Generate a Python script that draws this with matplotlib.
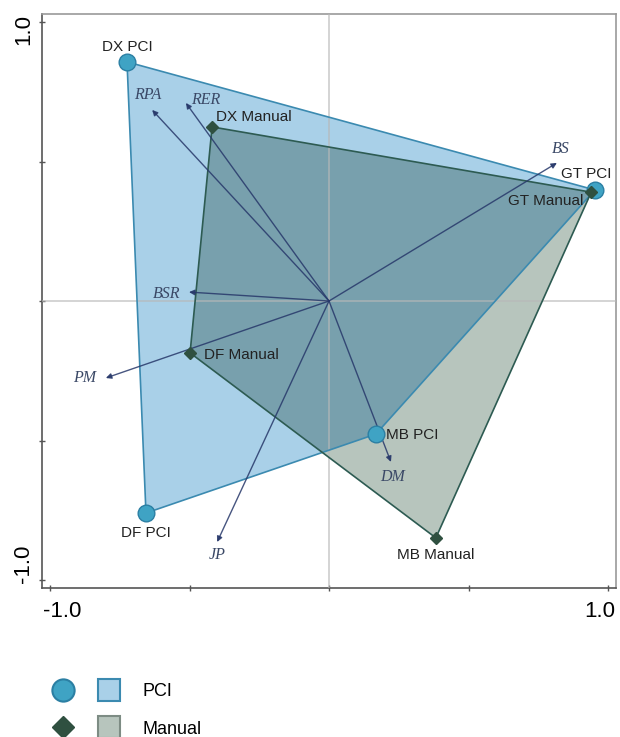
import matplotlib
matplotlib.use("Agg")
import matplotlib.pyplot as plt
from matplotlib.patches import Polygon
from matplotlib.lines import Line2D
from matplotlib.legend_handler import HandlerTuple

# sample scores (first two axes)
sites = ['DX', 'GT', 'MB', 'DF']
pci_x = [-0.724, 0.953, 0.168, -0.656]
pci_y = [0.857, 0.398, -0.477, -0.760]
manual_x = [-0.419, 0.940, 0.383, -0.498]
manual_y = [0.624, 0.390, -0.849, -0.186]

# variable loadings (arrows)
var_names = ['RPA', 'RER', 'BS', 'BSR', 'PM', 'JP', 'DM']
var_x = [-0.634, -0.513, 0.817, -0.502, -0.800, -0.401, 0.222]
var_y = [0.685, 0.710, 0.495, 0.032, -0.276, -0.864, -0.577]

# label offsets in pixels (style only)
pci_off = {'DX': (0, 15, 'center'), 'GT': (-34, 16, 'left'),
           'MB': (10, -1, 'left'), 'DF': (0, -20, 'center')}
man_off = {'DX': (4, 10, 'left'), 'GT': (-83, -9, 'left'),
           'MB': (0, -17, 'center'), 'DF': (14, -2, 'left')}
var_off = {'RPA': (-4, 15), 'RER': (20, 3), 'BS': (4, 14), 'BSR': (-22, -2),
           'PM': (-21, 0), 'JP': (0, -13), 'DM': (2, -15)}

pci_fill = '#a9d0e8'
manual_fill = '#b7c5bd'
overlap_fill = '#78a0ad'
pci_edge = '#3b8ab0'
manual_edge = '#2d5b52'
arrow_col = '#27386a'

plt.rcParams['font.family'] = ['Liberation Sans', 'DejaVu Sans']

fig = plt.figure(figsize=(6.2, 7.37), dpi=100)
ax = fig.add_axes([42 / 620, 1 - 588 / 737, 574 / 620, 574 / 737])
lim = 1 + 8 / 279
ax.set_xlim(-lim, lim)
ax.set_ylim(-lim, lim)

pci_xy = list(zip(pci_x, pci_y))
man_xy = list(zip(manual_x, manual_y))

pci_patch = Polygon(pci_xy, closed=True, fc=pci_fill, ec='none', zorder=1)
ax.add_patch(pci_patch)
ax.add_patch(Polygon(man_xy, closed=True, fc=manual_fill, ec='none', zorder=2))
ov = Polygon(man_xy, closed=True, fc=overlap_fill, ec='none', zorder=3)
ax.add_patch(ov)
ov.set_clip_path(pci_patch)

ax.axhline(0, color='#b8b8b8', lw=1.2, alpha=0.7, zorder=3.5)
ax.axvline(0, color='#b8b8b8', lw=1.2, alpha=0.7, zorder=3.5)

ax.add_patch(Polygon(pci_xy, closed=True, fill=False, ec=pci_edge, lw=1.2, zorder=4))
ax.add_patch(Polygon(man_xy, closed=True, fill=False, ec=manual_edge, lw=1.2, zorder=4))

for name, vx, vy in zip(var_names, var_x, var_y):
    ax.annotate('', xy=(vx, vy), xytext=(0, 0),
                arrowprops=dict(arrowstyle='-|>', color=arrow_col, lw=1.0, alpha=0.85,
                                mutation_scale=8, shrinkA=0, shrinkB=0),
                zorder=5)
    dx, dy = var_off[name]
    ax.annotate(name, (vx, vy), xytext=(dx, dy), textcoords='offset pixels',
                ha='center', va='center', fontsize=11.5, style='italic',
                family='Liberation Serif', color='#3a4866', zorder=7)

ax.plot(pci_x, pci_y, 'o', ms=12, mfc='#3fa3c4', mec='#2b7fa3', mew=1, zorder=6)
ax.plot(manual_x, manual_y, 'D', ms=6, mfc='#2f5040', mec='#2f5040', zorder=6)

for s, x, y in zip(sites, pci_x, pci_y):
    dx, dy, ha = pci_off[s]
    ax.annotate(f'{s} PCI', (x, y), xytext=(dx, dy), textcoords='offset pixels',
                ha=ha, va='center', fontsize=11, color='#222222', zorder=7)
for s, x, y in zip(sites, manual_x, manual_y):
    dx, dy, ha = man_off[s]
    ax.annotate(f'{s} Manual', (x, y), xytext=(dx, dy), textcoords='offset pixels',
                ha=ha, va='center', fontsize=11, color='#222222', zorder=7)

ticks = [-1, -0.5, 0, 0.5, 1]
ax.set_xticks(ticks)
ax.set_yticks(ticks)
ax.set_xticklabels([])
ax.set_yticklabels([])
ax.tick_params(direction='inout', length=4, width=1, color='#555555')
for side in ['left', 'bottom']:
    ax.spines[side].set_color('#555555')
for side in ['top', 'right']:
    ax.spines[side].set_color('#999999')
for sp in ax.spines.values():
    sp.set_linewidth(1.2)

ax.text(0.002, -0.022, '-1.0', transform=ax.transAxes, ha='left', va='top', fontsize=16)
ax.text(0.998, -0.022, '1.0', transform=ax.transAxes, ha='right', va='top', fontsize=16)
ax.text(-0.014, 1.0, '1.0', transform=ax.transAxes, rotation=90, ha='right', va='top', fontsize=16)
ax.text(-0.014, 0.008, '-1.0', transform=ax.transAxes, rotation=90, ha='right', va='bottom', fontsize=16)

h_pci_pt = Line2D([], [], ls='none', marker='o', ms=16, mfc='#3fa3c4', mec='#2b7fa3', mew=1.5)
h_pci_sq = Line2D([], [], ls='none', marker='s', ms=16, mfc=pci_fill, mec=pci_edge, mew=1.5)
h_man_pt = Line2D([], [], ls='none', marker='D', ms=11.5, mfc='#2f5040', mec='#2f5040')
h_man_sq = Line2D([], [], ls='none', marker='s', ms=16, mfc=manual_fill, mec='#7d8c84', mew=1.5)
fig.legend([(h_pci_pt, h_pci_sq), (h_man_pt, h_man_sq)], ['PCI', 'Manual'],
           handler_map={tuple: HandlerTuple(ndivide=None, pad=1.13)},
           loc='upper left', bbox_to_anchor=(50 / 620, 1 - 683 / 737),
           frameon=False, fontsize=13, handlelength=4.0, handletextpad=1.1,
           labelspacing=1.15, borderpad=0, borderaxespad=0)

fig.savefig('out.png', dpi=100)
